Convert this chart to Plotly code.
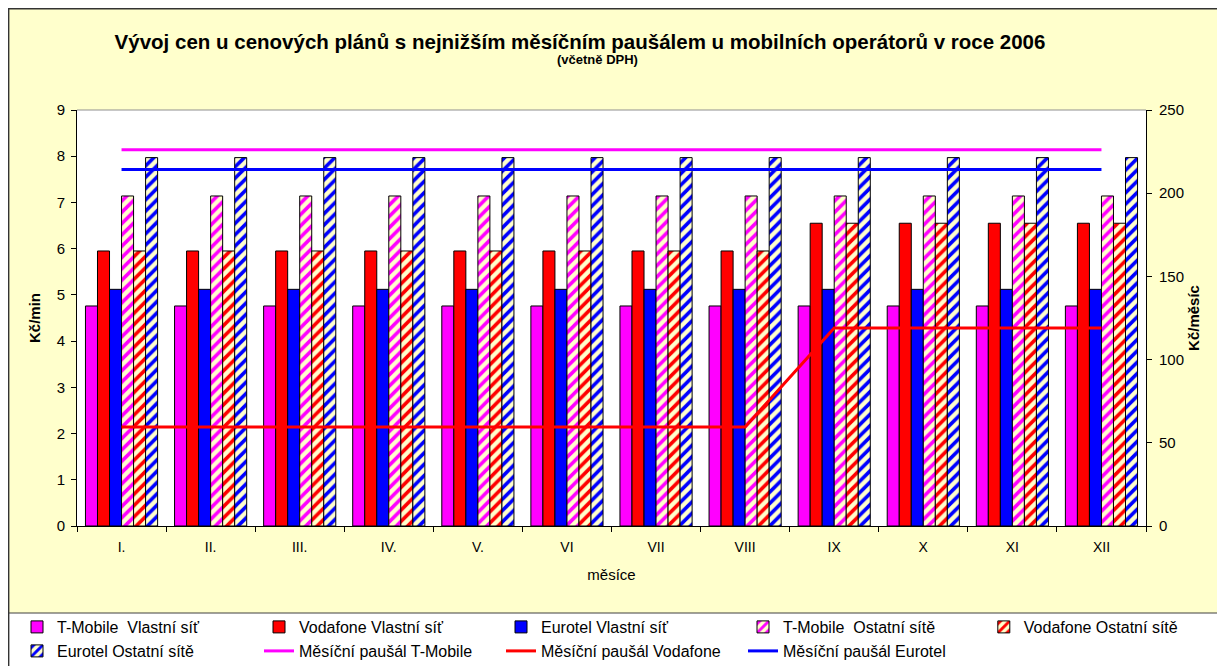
import plotly.graph_objects as go

months = ["I.", "II.", "III.", "IV.", "V.", "VI", "VII", "VIII", "IX", "X", "XI", "XII"]

tmobile_own = [4.76] * 12
vodafone_own = [5.95] * 8 + [6.55] * 4
eurotel_own = [5.12] * 12
tmobile_other = [7.14] * 12
vodafone_other = [5.95] * 8 + [6.55] * 4
eurotel_other = [7.97] * 12

fee_tmobile = [226.1] * 12
fee_vodafone = [59.5] * 8 + [119.0] * 4
fee_eurotel = [214.2] * 12

YEL = "#FFFFCC"
FONT = "Liberation Sans, Arial, sans-serif"
W, H = 1225, 666

# figure-pixel -> paper helpers (plot area 69..1138 x, 102..518 y)
L, R, T, B = 69, 1138, 102, 518
def px(x):
    return (x - L) / (R - L)
def py(y):
    return (B - y) / (B - T)

fig = go.Figure()

solid = [("T-Mobile\u00a0 Vlastní síť", tmobile_own, "#FF00FF"),
         ("Vodafone Vlastní síť", vodafone_own, "#FF0000"),
         ("Eurotel Vlastní síť", eurotel_own, "#0000FF")]
hatched = [("T-Mobile\u00a0 Ostatní sítě", tmobile_other, "#FF00FF", "legend"),
           ("Vodafone Ostatní sítě", vodafone_other, "#FF0000", "legend3"),
           ("Eurotel Ostatní sítě", eurotel_other, "#0000FF", "legend2")]

for name, vals, col in solid:
    fig.add_trace(go.Bar(x=months, y=vals, name=name, legend="legend",
                         marker=dict(color=col, line=dict(color="black", width=1))))
for name, vals, col, lg in hatched:
    fig.add_trace(go.Bar(x=months, y=vals, name=name, legend=lg,
                         marker=dict(color=YEL, line=dict(color="black", width=1),
                                     pattern=dict(shape="/", fgcolor=col, bgcolor=YEL,
                                                  size=8, solidity=0.45, fillmode="replace"))))

for name, vals, col in [("Měsíční paušál T-Mobile", fee_tmobile, "#FF00FF"),
                        ("Měsíční paušál Vodafone", fee_vodafone, "#FF0000"),
                        ("Měsíční paušál Eurotel", fee_eurotel, "#0000FF")]:
    fig.add_trace(go.Scatter(x=months, y=vals, name=name, yaxis="y2", mode="lines",
                             legend="legend2", line=dict(color=col, width=3)))

shapes = [
    # legend box
    dict(type="rect", xref="paper", yref="paper", x0=px(0.5), x1=px(1212), y0=py(605), y1=py(690),
         fillcolor="white", line=dict(color="#404040", width=1), layer="below"),
    # chart border
    dict(type="rect", xref="paper", yref="paper", x0=px(0.6), x1=px(1260), y0=py(0.6), y1=py(700),
         fillcolor="rgba(0,0,0,0)", line=dict(color="#333333", width=1.6), layer="below"),
    # plot area top border
    dict(type="line", xref="paper", yref="paper", x0=0, x1=1, y0=1, y1=1,
         line=dict(color="#909090", width=1)),
]

legend_common = dict(orientation="h", xanchor="left", yanchor="middle",
                     bgcolor="rgba(0,0,0,0)", font=dict(size=16, family=FONT),
                     entrywidth=197, entrywidthmode="pixels", tracegroupgap=0,
                     traceorder="normal")

fig.update_layout(
    width=W, height=H,
    margin=dict(l=L, r=W - R, t=T, b=H - B, autoexpand=False),
    paper_bgcolor=YEL, plot_bgcolor="white",
    font=dict(family=FONT, size=14, color="black"),
    barmode="group", bargap=0.19, bargroupgap=0,
    title=dict(text="<b>Vývoj cen u cenových plánů s nejnižším měsíčním paušálem u mobilních operátorů v roce 2006</b>",
               x=572 / W, xanchor="center", y=1 - 34 / H, yanchor="middle",
               font=dict(family=FONT, size=20.5, color="black")),
    annotations=[
        dict(text="<b>(včetně DPH)</b>", xref="paper", yref="paper",
             x=px(589), y=py(52), xanchor="center", yanchor="middle",
             showarrow=False, font=dict(family=FONT, size=13, color="black")),
        dict(text="<b>g</b>", xref="paper", yref="paper",
             x=px(1150), y=py(-2), xanchor="center", yanchor="bottom",
             showarrow=False, font=dict(family=FONT, size=20, color="black")),
    ],
    xaxis=dict(showline=True, linecolor="black", linewidth=1, ticks="outside", tickson="boundaries",
               ticklen=5, tickcolor="black", showgrid=False, ticklabelstandoff=8,
               title=dict(text="měsíce", font=dict(size=15), standoff=15),
               tickfont=dict(size=14)),
    yaxis=dict(range=[0, 9], dtick=1, showline=True, linecolor="black", linewidth=1,
               ticks="outside", ticklen=5, tickcolor="black", showgrid=False, zeroline=False,
               ticklabelstandoff=3,
               title=dict(text="<b>Kč/min</b>", font=dict(size=15), standoff=12),
               tickfont=dict(size=15)),
    yaxis2=dict(range=[0, 250], dtick=50, overlaying="y", side="right", showline=True,
                linecolor="black", linewidth=1, ticks="outside", ticklen=5, tickcolor="black",
                showgrid=False, zeroline=False, ticklabelstandoff=4,
                title=dict(text="<b>Kč/měsíc</b>", font=dict(size=15), standoff=5),
                tickfont=dict(size=15)),
    legend=dict(x=px(9), y=py(619), **legend_common),
    legend3=dict(x=px(9 + 4 * 241.7), y=py(619), **legend_common),
    legend2=dict(x=px(9), y=py(643), **legend_common),
    shapes=shapes,
)

fig.write_html("out.html")
